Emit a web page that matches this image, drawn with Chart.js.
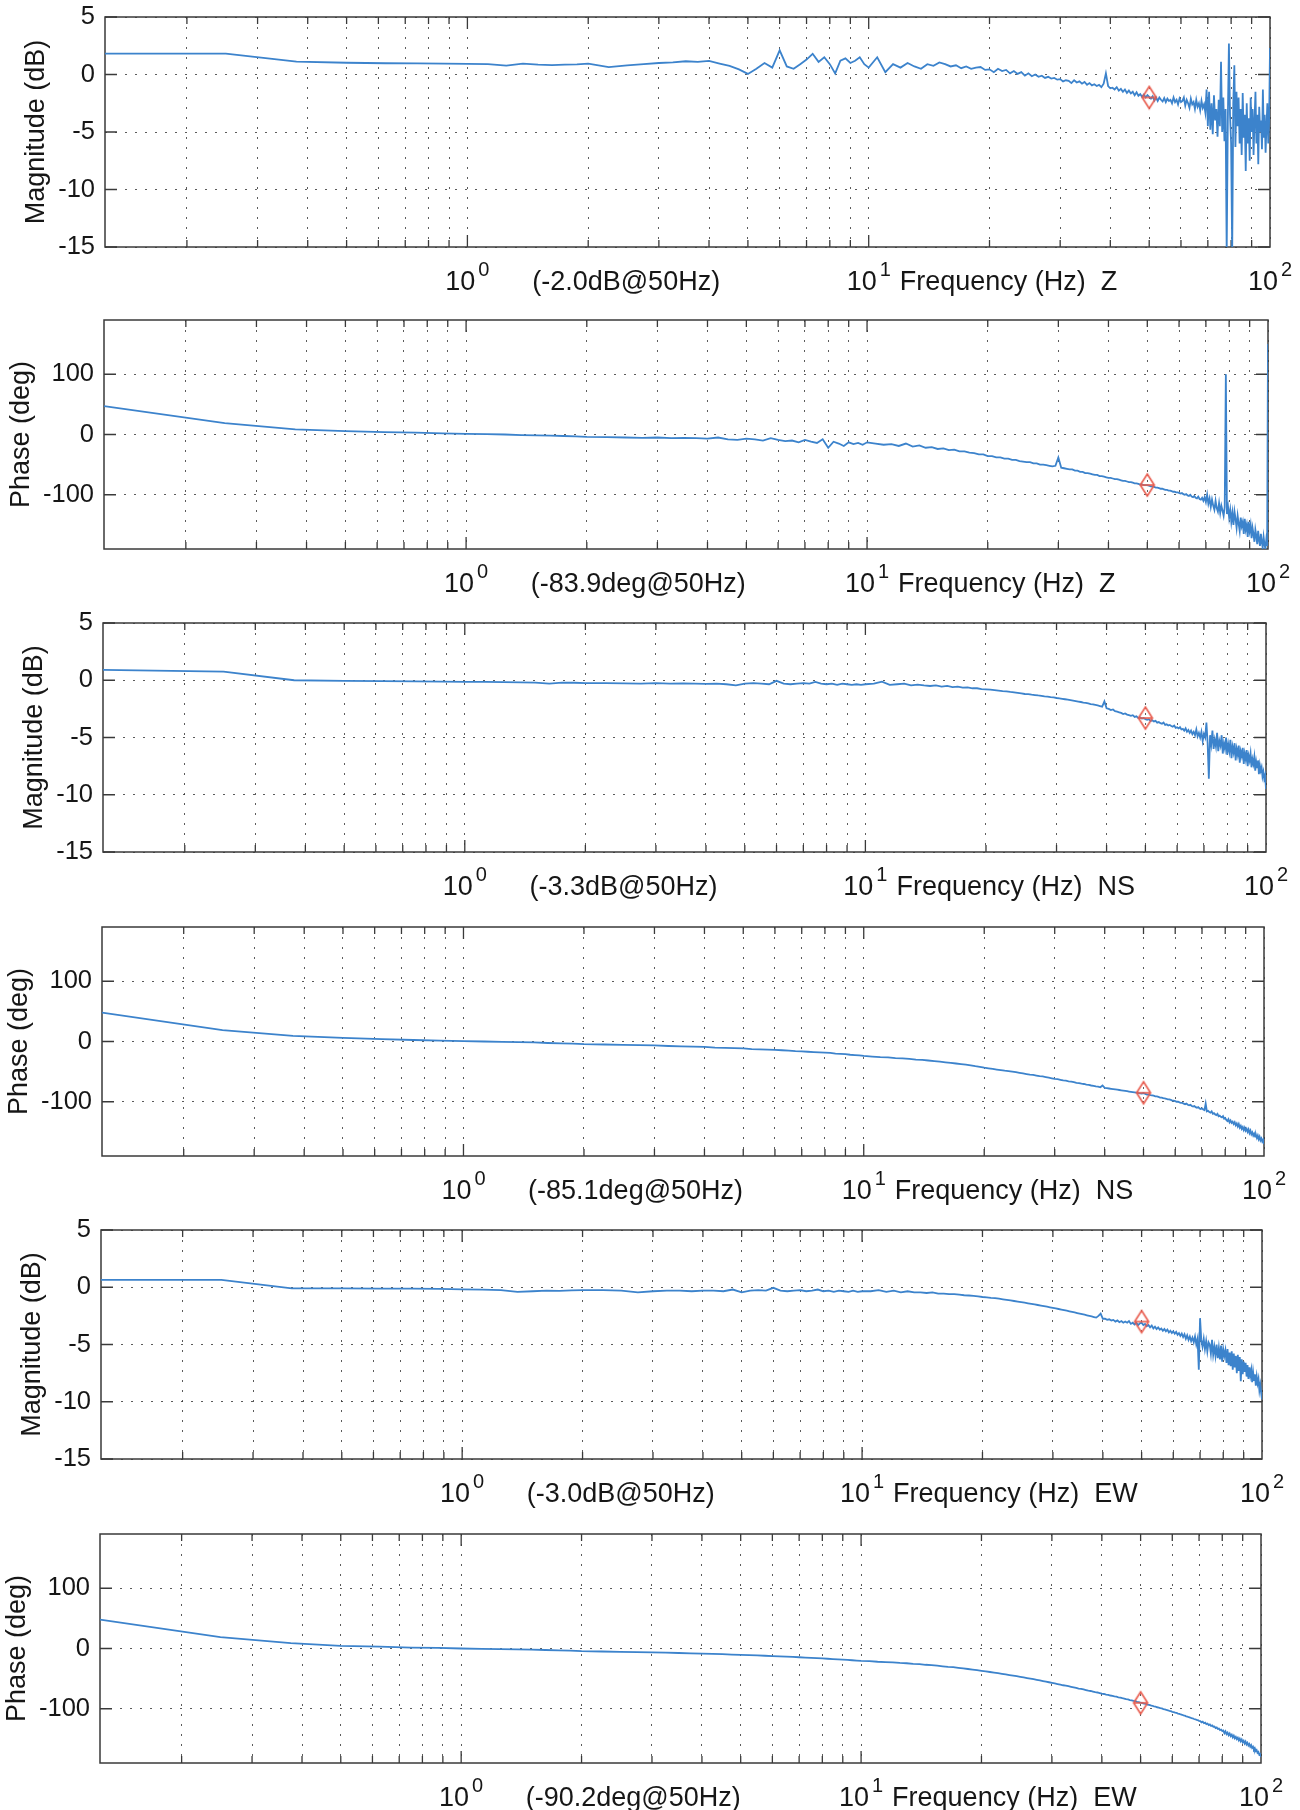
<!DOCTYPE html>
<html>
<head>
<meta charset="utf-8">
<script src="https://cdn.jsdelivr.net/npm/chart.js@4.4.1/dist/chart.umd.min.js"></script>
<style>
  body { margin: 0; background: #fff; }
  #page { position: relative; width: 1300px; height: 1810px; overflow: hidden; background: #fff; }
  #page canvas { position: absolute; left: 0; }
</style>
</head>
<body>
<div id="page"></div>
<script>
// ---- data ----

// frequency samples (Hz)
const freqHz = [
  0.125, 0.25, 0.375, 0.5, 0.625, 0.75, 0.875, 1, 1.125, 1.25, 1.375, 1.5, 1.625, 1.75, 1.875, 2,
  2.25, 2.5, 2.75, 3, 3.25, 3.5, 3.75, 4, 4.25, 4.5, 4.75, 5, 5.25, 5.5, 5.75, 6,
  6.25, 6.5, 6.75, 7, 7.25, 7.5, 7.75, 8, 8.25, 8.5, 8.75, 9, 9.25, 9.5, 9.75, 10,
  10.5, 11, 11.5, 12, 12.5, 13, 13.5, 14, 14.5, 15,
  15.5, 16, 16.5, 17, 17.5, 18, 18.5, 19, 19.5, 20,
  20.5, 21, 21.5, 22, 22.5, 23, 23.5, 24, 24.5, 25,
  25.5, 26, 26.5, 27, 27.5, 28, 28.5, 29, 29.5, 30,
  30.5, 31, 31.5, 32, 32.5, 33, 33.5, 34, 34.5, 35,
  35.5, 36, 36.5, 37, 37.5, 38, 38.5, 39, 39.5, 40,
  40.5, 41, 41.5, 42, 42.5, 43, 43.5, 44, 44.5, 45, 45.5, 46, 46.5, 47, 47.5, 48, 48.5, 49, 49.5, 50,
  50.5, 51, 51.5, 52, 52.5, 53, 53.5, 54, 54.5, 55, 55.5, 56, 56.5, 57, 57.5, 58, 58.5, 59, 59.5, 60,
  60.5, 61, 61.5, 62, 62.5, 63, 63.5, 64, 64.5, 65, 65.5, 66, 66.5, 67, 67.5, 68, 68.5, 69, 69.5, 70,
  70.5, 71, 71.5, 72, 72.5, 73, 73.5, 74, 74.5, 75, 75.5, 76, 76.5, 77, 77.5, 78, 78.5, 79, 79.5, 80,
  80.5, 81, 81.5, 82, 82.5, 83, 83.5, 84, 84.5, 85, 85.5, 86, 86.5, 87, 87.5, 88, 88.5, 89, 89.5, 90,
  90.5, 91, 91.5, 92, 92.5, 93, 93.5, 94, 94.5, 95, 95.5, 96, 96.5, 97, 97.5, 98, 98.5, 99, 99.5, 100
];

// Z component, magnitude (dB)
const magZ = [
  1.82, 1.82, 1.12, 1.02, 0.98, 0.96, 0.95, 0.93, 0.9, 0.78, 0.95, 0.85, 0.82, 0.86, 0.88, 0.95,
  0.65, 0.8, 0.9, 1.0, 1.05, 1.15, 1.1, 1.18, 0.95, 0.75, 0.45, 0.05, 0.5, 1.0, 0.6, 2.1,
  0.7, 0.5, 0.9, 1.3, 1.8, 1.1, 1.5, 0.9, 0.1, 1.2, 1.4, 1.0, 1.2, 1.5, 0.9, 0.6,
  1.5, 0.2, 0.9, 0.6, 1.0, 0.7, 0.5, 0.9, 0.75, 1.05,
  0.9, 0.7, 0.8, 0.55, 0.7, 0.5, 0.6, 0.65, 0.4, 0.45,
  0.2, 0.5, 0.3, 0.4, 0.1, 0.3, 0.05, 0.2, -0.1, 0.1,
  -0.15, 0.0, -0.2, -0.1, -0.3, -0.2, -0.35, -0.3, -0.45, -0.4,
  -0.6, -0.5, -0.55, -0.75, -0.5, -0.7, -0.6, -0.8, -0.65, -0.9,
  -0.75, -0.95, -0.85, -1.0, -0.9, -1.1, -0.8, 0.1, -1.0, -1.2,
  -1.15, -1.3, -1.1, -1.4, -1.25, -1.5, -1.3, -1.6, -1.4, -1.65, -1.5, -1.8, -1.55, -1.85, -1.7, -1.95, -1.75, -2.0, -1.8, -1.95,
  -2.1, -1.9, -2.25, -2.0, -2.3, -2.0, -2.2, -2.35, -2.05, -2.4, -2.1, -2.3, -2.2, -2.5, -2.0, -2.4, -2.2, -2.6, -2.1, -2.4,
  -2.3, -2.0, -2.7, -2.2, -2.5, -2.9, -2.1, -2.6, -2.4, -3.0, -2.2, -2.8, -2.5, -3.1, -2.3, -2.9, -2.6, -3.3, -1.3, -4.5,
  -1.5, -4.8, -2.5, -5.2, -1.8, -4.0, -3.0, -5.4, -2.2, -4.5, 1.1, -5.0, -2.0, -5.8, -3.0, -15.5, -4.0, 2.7, -3.5, -6.0,
  -15.5, -2.5, 0.8, -6.3, -1.5, -4.5, -2.0, -6.0, -3.0, -7.0, -1.6, -5.5, -3.5, -8.4, -2.5, -6.0, -3.8, -7.5, -2.0, -5.0,
  -3.0, -7.0, -4.0, -1.5, -6.0, -3.5, -7.8, -2.8, -5.0, -4.0, -6.5, -1.3, -5.5, -3.5, -6.8, -4.5, -2.5, -6.0, -4.0, 2.3
];

// Z component, phase (deg)
const phaseZ = [
  47, 19, 8.5, 5.5, 4, 3, 2, 1, 0.5, 0, -1, -1.5, -2, -2.5, -3, -4,
  -4.5, -5, -5.5, -5, -6, -5.5, -6, -7, -5, -8, -9, -7, -8, -10, -6, -9,
  -11, -10, -13, -9, -12, -14, -8, -22, -12, -15, -19, -13, -16, -14, -17, -13,
  -15, -17, -16, -19, -15, -20, -18, -22, -21, -24,
  -23, -26, -25, -28, -28, -30, -31, -33, -33, -36,
  -36, -38, -38, -40, -40, -42, -42, -44, -45, -46,
  -46, -48, -48, -50, -50, -51, -52, -53, -52, -38,
  -55, -56, -57, -58, -58, -60, -60, -62, -62, -64,
  -64, -65, -66, -67, -67, -69, -69, -70, -71, -72,
  -72, -73, -74, -74, -75, -76, -77, -77, -78, -79, -79, -80, -81, -81, -82, -83, -83, -84, -84, -84,
  -85, -86, -86, -87, -88, -88, -89, -90, -90, -91, -92, -92, -93, -93, -94, -95, -95, -96, -96, -97,
  -98, -97, -99, -100, -99, -101, -102, -100, -103, -104, -102, -105, -106, -103, -107, -108, -105, -110, -104, -112,
  -100, -115, -106, -120, -108, -118, -125, -110, -122, -128, -114, -130, -118, -126, -135, -120, 100, -132, -120, -138,
  -125, -145, -130, -150, -128, -140, -155, -135, -148, -160, -138, -152, -145, -165, -140, -158, -150, -170, -145, -160,
  -150, -172, -155, -165, -178, -158, -168, -182, -160, -175, -185, -165, -178, -188, -170, -182, -190, -175, -185, 150
];

// NS component, magnitude (dB)
const magNS = [
  0.9, 0.75, 0.0, -0.05, -0.08, -0.1, -0.12, -0.15, -0.15, -0.17, -0.18, -0.2, -0.3, -0.2, -0.22, -0.25,
  -0.25, -0.28, -0.3, -0.25, -0.3, -0.28, -0.3, -0.32, -0.3, -0.35, -0.45, -0.3, -0.25, -0.3, -0.35, -0.05,
  -0.3, -0.35, -0.3, -0.25, -0.3, -0.15, -0.3, -0.35, -0.3, -0.4, -0.3, -0.35, -0.4, -0.35, -0.4, -0.35,
  -0.3, -0.12, -0.4, -0.35, -0.3, -0.45, -0.38, -0.45, -0.5, -0.45,
  -0.55, -0.5, -0.6, -0.55, -0.65, -0.62, -0.7, -0.7, -0.78, -0.8,
  -0.82, -0.86, -0.9, -0.95, -0.97, -1.02, -1.05, -1.1, -1.15, -1.2,
  -1.22, -1.26, -1.29, -1.33, -1.36, -1.4, -1.43, -1.47, -1.5, -1.55,
  -1.58, -1.62, -1.66, -1.7, -1.74, -1.78, -1.82, -1.86, -1.9, -1.95,
  -1.98, -2.02, -2.08, -2.1, -2.15, -2.2, -2.25, -2.3, -1.85, -2.45,
  -2.5, -2.6, -2.55, -2.7, -2.75, -2.8, -2.85, -2.95, -2.9, -3.0, -3.05, -3.1, -3.05, -3.2, -3.15, -3.3, -3.25, -3.35, -3.3, -3.4,
  -3.45, -3.4, -3.55, -3.5, -3.6, -3.55, -3.7, -3.65, -3.75, -3.8, -3.7, -3.9, -3.85, -3.95, -3.9, -4.0, -4.05, -3.95, -4.15, -4.1,
  -4.2, -4.1, -4.3, -4.25, -4.4, -4.2, -4.5, -4.35, -4.6, -4.4, -4.7, -4.5, -4.8, -4.3, -4.9, -4.6, -5.0, -4.5, -5.3, -4.7,
  -5.0, -3.7, -5.5, -8.6, -4.8, -5.6, -4.4, -6.0, -5.2, -5.8, -4.6, -6.2, -5.3, -5.7, -4.8, -6.4, -5.5, -6.0, -5.0, -6.5,
  -5.6, -6.2, -5.2, -6.8, -5.8, -6.3, -5.5, -7.0, -6.0, -6.5, -5.7, -7.2, -6.2, -6.6, -5.9, -7.3, -6.4, -6.9, -6.1, -7.5,
  -6.6, -7.0, -6.4, -7.6, -6.9, -7.3, -6.7, -7.9, -7.1, -7.6, -7.0, -8.2, -7.4, -7.9, -7.6, -8.4, -8.0, -8.6, -8.3, -9.5
];

// NS component, phase (deg)
const phaseNS = [
  48, 19, 9.5, 6, 4, 2.5, 1.5, 0.5, 0, -0.5, -1, -1.5, -2.5, -3, -3.5, -4.5,
  -5, -5.5, -6, -6.5, -7.5, -8, -8.5, -9, -10, -10.5, -11, -11.5, -12.5, -13, -13.5, -14,
  -14.5, -15, -16, -16.5, -17, -17.5, -18, -18.5, -19, -20, -20.5, -21, -22, -22.5, -23, -24,
  -25, -26, -26.5, -27.5, -28, -29, -30, -30.5, -31.5, -32.5,
  -33.5, -34.5, -35.5, -36.5, -37.5, -38.5, -39.5, -41, -42, -43.5,
  -44.5, -45.5, -46.5, -47.5, -48.5, -49, -50, -51, -52, -53,
  -54, -55, -55.5, -56.5, -57.5, -58, -59, -60, -61, -62,
  -62.5, -63.5, -64.5, -65, -66, -66.5, -67.5, -68.5, -69, -70,
  -70.5, -71.5, -72, -73, -73.5, -74.5, -75, -76, -73, -77,
  -77.5, -78, -78.5, -79, -79.5, -80, -80.5, -81, -81.5, -82, -82.5, -83, -83.5, -84, -84.5, -85, -85.5, -86, -86.5, -85.5,
  -87, -88, -88, -89, -89.5, -90, -91, -91, -92, -93, -93, -94, -94.5, -95, -96, -96, -97, -98, -98, -99,
  -100, -100, -101, -102, -102, -103, -104, -103, -105, -106, -105, -107, -108, -107, -109, -110, -109, -111, -112, -111,
  -113, -114, -103, -116, -115, -117, -118, -116, -120, -119, -121, -122, -120, -124, -123, -125, -126, -124, -128, -127,
  -130, -132, -129, -134, -131, -135, -133, -137, -134, -139, -136, -141, -137, -143, -140, -145, -142, -147, -143, -148,
  -145, -150, -146, -152, -148, -154, -151, -156, -153, -158, -155, -160, -156, -162, -158, -164, -161, -166, -163, -170
];

// EW component, magnitude (dB)
const magEW = [
  0.65, 0.65, -0.1, -0.1, -0.12, -0.12, -0.15, -0.18, -0.2, -0.25, -0.4, -0.35, -0.3, -0.32, -0.28, -0.25,
  -0.25, -0.3, -0.45, -0.35, -0.3, -0.3, -0.35, -0.3, -0.3, -0.35, -0.2, -0.45, -0.3, -0.25, -0.3, -0.05,
  -0.3, -0.35, -0.3, -0.25, -0.35, -0.3, -0.2, -0.35, -0.3, -0.4, -0.3, -0.35, -0.4, -0.3, -0.4, -0.35,
  -0.35, -0.25, -0.4, -0.3, -0.45, -0.35, -0.45, -0.45, -0.5, -0.45,
  -0.55, -0.55, -0.6, -0.6, -0.65, -0.7, -0.72, -0.75, -0.8, -0.85,
  -0.88, -0.92, -0.95, -1.0, -1.05, -1.1, -1.15, -1.2, -1.25, -1.3,
  -1.35, -1.4, -1.45, -1.5, -1.55, -1.6, -1.65, -1.7, -1.75, -1.8,
  -1.85, -1.9, -1.95, -2.0, -2.05, -2.1, -2.15, -2.2, -2.25, -2.3,
  -2.35, -2.4, -2.45, -2.5, -2.55, -2.6, -2.65, -2.5, -2.3, -2.75,
  -2.75, -2.85, -2.8, -2.9, -2.85, -3.0, -2.9, -3.05, -2.95, -3.1, -3.0, -3.1, -2.95, -3.2, -3.1, -3.25, -3.1, -3.3, -3.15, -3.1,
  -3.3, -3.2, -3.4, -3.3, -3.5, -3.35, -3.6, -3.45, -3.65, -3.5, -3.7, -3.6, -3.8, -3.65, -3.85, -3.7, -3.95, -3.8, -4.0, -3.85,
  -4.05, -3.9, -4.15, -4.0, -4.25, -4.05, -4.35, -4.1, -4.5, -4.2, -4.6, -4.3, -4.7, -4.4, -4.8, -4.3, -5.0, -4.5, -7.2, -2.7,
  -4.6, -5.2, -4.5, -5.4, -4.7, -5.6, -4.8, -5.0, -5.8, -4.6, -5.9, -5.2, -6.0, -5.0, -6.2, -5.3, -6.3, -5.1, -6.5, -5.4,
  -6.0, -5.5, -6.6, -5.4, -6.8, -5.7, -6.9, -5.6, -7.2, -5.8, -7.0, -6.0, -7.5, -5.9, -7.3, -6.1, -8.2, -6.3, -7.6, -6.5,
  -7.4, -6.6, -7.8, -6.8, -8.0, -7.0, -7.7, -7.2, -8.3, -7.4, -8.1, -7.6, -8.6, -7.8, -8.4, -8.0, -9.0, -8.5, -9.2, -9.8
];

// EW component, phase (deg)
const phaseEW = [
  48, 19, 9, 4.5, 3, 1.5, 1, 0, -0.5, -1, -1.5, -2, -2.5, -3, -3.5, -4.5,
  -5, -5.5, -6, -6.5, -7, -7.5, -8, -8.5, -9, -9.5, -10, -10.5, -11, -11.5, -12, -12.5,
  -13, -13.5, -14, -14.5, -15, -15.5, -16, -16.5, -17, -17.5, -18, -18.5, -19, -19.5, -20, -20.5,
  -21, -22, -22.5, -23, -24, -24.5, -25.5, -26, -27, -27.5,
  -28.5, -29.5, -30.5, -31, -32, -33, -34, -35, -36, -37,
  -38, -39, -40, -41, -42, -43, -44, -45, -46, -47,
  -48, -49, -50, -51, -52, -53, -54, -55, -56, -57,
  -58, -59, -60, -61, -61.5, -62.5, -63.5, -64.5, -65.5, -66.5,
  -67, -68, -69, -70, -70.5, -71.5, -72.5, -73, -74, -75,
  -75.5, -76.5, -77, -78, -78.5, -79.5, -80, -81, -81.5, -82.5, -83, -84, -84.5, -85.5, -86, -87, -87.5, -88.5, -89, -90,
  -90.5, -91.5, -92, -93, -93.5, -94.5, -95, -96, -96.5, -97.5, -98, -99, -99.5, -100.5, -101, -102, -102.5, -103.5, -104, -105,
  -105.5, -106.5, -107, -108, -108.5, -109.5, -110, -111, -111.5, -112.5, -113, -114, -114.5, -115.5, -116, -117, -117.5, -118.5, -119, -120,
  -120.5, -122.5, -121.5, -124, -123, -125.5, -124.5, -127, -126, -128.5, -127.5, -130, -129.5, -132, -131, -133.5, -133, -135.5, -134.5, -137,
  -136, -140.5, -137.5, -142, -139.5, -144, -141, -145.5, -143, -147.5, -144.5, -149, -146.5, -150.5, -148, -152.5, -149.5, -154, -151, -155.5,
  -153, -157.5, -154.5, -159, -156.5, -161, -158.5, -163, -160.5, -165, -163, -167.5, -165.5, -170, -168.5, -173, -171.5, -176, -175, -180
];

// values at the 50 Hz marker, per panel (top to bottom)
const markerHz = 50;
const markerAt50 = [-2.0, -83.9, -3.3, -85.1, -3.0, -90.2];
const panelSeries = [magZ, phaseZ, magNS, phaseNS, magEW, phaseEW];
const panelKind = ['mag', 'phase', 'mag', 'phase', 'mag', 'phase'];
const panelComp = ['Z', 'Z', 'NS', 'NS', 'EW', 'EW'];

// axis ticks
const xGridHz = [0.2, 0.3, 0.4, 0.5, 0.6, 0.7, 0.8, 0.9, 1, 2, 3, 4, 5, 6, 7, 8, 9, 10, 20, 30, 40, 50, 60, 70, 80, 90, 100];
const xDecades = [1, 10, 100];
const magTicks = [-15, -10, -5, 0, 5];
const phaseTicks = [-100, 0, 100];

// ---- layout / style ----
const panelBoxes = [
  { top: 17, bottom: 247, left: 105, right: 1270 },
  { top: 320, bottom: 549, left: 104, right: 1268 },
  { top: 623, bottom: 852, left: 103, right: 1266 },
  { top: 927, bottom: 1156, left: 102, right: 1264 },
  { top: 1230, bottom: 1459, left: 101, right: 1262 },
  { top: 1534, bottom: 1763, left: 100, right: 1261 }
];
const fontFamily = "'Liberation Sans', Arial, Helvetica, sans-serif";
const ink = '#161616';
const frameInk = '#3a3a3a';
const gridInk = 'rgba(50,50,50,0.8)';
const lineBlue = '#3c83cc';
const markerRed = '#e85a4c';

Chart.defaults.font.family = fontFamily;

// red diamond marker like Matlab's 'd'
const diamond = document.createElement('canvas');
diamond.width = 18;
diamond.height = 26;
(function () {
  const g = diamond.getContext('2d');
  g.strokeStyle = markerRed;
  g.lineWidth = 1.6;
  g.beginPath();
  g.moveTo(9, 2); g.lineTo(16, 13); g.lineTo(9, 24); g.lineTo(2, 13); g.closePath();
  g.stroke();
  g.beginPath();
  g.moveTo(2.5, 13); g.lineTo(15.5, 13);
  g.stroke();
})();

// frame and inward ticks under the curve, x labels on top (Matlab style)
const framePlugin = {
  id: 'frame',
  beforeDatasetsDraw(chart) {
    const { ctx, chartArea: a, scales: { x, y } } = chart;
    ctx.save();
    ctx.strokeStyle = frameInk;
    ctx.lineWidth = 1.5;
    ctx.strokeRect(a.left, a.top, a.right - a.left, a.bottom - a.top);

    ctx.lineWidth = 1.3;
    ctx.beginPath();
    x.ticks.forEach(t => {
      if (t.value >= 100) return;
      const px = x.getPixelForValue(t.value);
      const len = xDecades.includes(t.value) ? 12 : 7;
      ctx.moveTo(px, a.bottom); ctx.lineTo(px, a.bottom - len);
      ctx.moveTo(px, a.top); ctx.lineTo(px, a.top + len);
    });
    y.ticks.forEach(t => {
      const py = y.getPixelForValue(t.value);
      ctx.moveTo(a.left, py); ctx.lineTo(a.left + 12, py);
      ctx.moveTo(a.right, py); ctx.lineTo(a.right - 12, py);
    });
    ctx.stroke();
    ctx.restore();
  },
  afterDraw(chart) {
    const { ctx, chartArea: a, scales: { x } } = chart;
    const i = chart.options.panelIndex;
    ctx.save();
    // decade labels 10^n
    const base = a.bottom + 43;
    ctx.fillStyle = ink;
    ctx.textBaseline = 'alphabetic';
    ctx.textAlign = 'left';
    xDecades.forEach((v, n) => {
      ctx.font = '27px ' + fontFamily;
      const w1 = ctx.measureText('10').width;
      ctx.font = '20px ' + fontFamily;
      const w2 = ctx.measureText(String(n)).width;
      const left = x.getPixelForValue(v) - (w1 + 3 + w2) / 2;
      ctx.font = '27px ' + fontFamily;
      ctx.fillText('10', left, base);
      ctx.font = '20px ' + fontFamily;
      ctx.fillText(String(n), left + w1 + 3, base - 14);
    });

    // value at 50 Hz and axis name
    ctx.font = '27px ' + fontFamily;
    const unit = panelKind[i] === 'mag' ? 'dB' : 'deg';
    ctx.fillText('(' + markerAt50[i].toFixed(1) + unit + '@' + markerHz + 'Hz)', x.getPixelForValue(1.45), base);
    ctx.fillText('Frequency (Hz)  ' + panelComp[i], x.getPixelForValue(10) + 31, base);
    ctx.restore();
  }
};

const page = document.getElementById('page');

function makePanel(i) {
  const box = panelBoxes[i];
  const isMag = panelKind[i] === 'mag';
  const padTop = 22;
  const padBottom = 60;
  const canvas = document.createElement('canvas');
  canvas.width = 1300;
  canvas.height = box.bottom - box.top + padTop + padBottom;
  canvas.style.top = (box.top - padTop) + 'px';
  page.appendChild(canvas);

  const yTicks = isMag ? magTicks : phaseTicks;
  const titleSize = 27;
  const titleCenter = box.left - (isMag ? 68 : 82);

  new Chart(canvas, {
    type: 'line',
    data: {
      datasets: [
        {
          data: [{ x: markerHz, y: markerAt50[i] }],
          showLine: false,
          pointStyle: diamond,
          pointRadius: 10,
          pointHoverRadius: 10
        },
        {
          data: freqHz.map((f, k) => ({ x: f, y: panelSeries[i][k] })),
          borderColor: lineBlue,
          borderWidth: 1.8,
          pointRadius: 0,
          tension: 0,
          fill: false
        }
      ]
    },
    options: {
      panelIndex: i,
      responsive: false,
      animation: false,
      devicePixelRatio: 1,
      events: [],
      layout: { padding: { top: padTop, bottom: padBottom, left: 0, right: 1300 - box.right } },
      plugins: { legend: { display: false }, tooltip: { enabled: false } },
      scales: {
        x: {
          type: 'logarithmic',
          min: 0.125,
          max: 100,
          afterBuildTicks: ax => { ax.ticks = xGridHz.map(v => ({ value: v })); },
          afterFit: ax => { ax.height = 0; ax.paddingLeft = 0; ax.paddingRight = 0; },
          ticks: { display: false },
          grid: { color: gridInk, lineWidth: 1, drawTicks: false },
          border: { display: false, dash: [2, 8] }
        },
        y: {
          min: isMag ? -15 : -190,
          max: isMag ? 5 : 190,
          afterBuildTicks: ax => { ax.ticks = yTicks.map(v => ({ value: v })); },
          afterFit: ax => { ax.width = box.left; ax.paddingTop = 0; ax.paddingBottom = 0; },
          ticks: { color: ink, font: { size: 25.5 }, padding: 10 },
          grid: { color: gridInk, lineWidth: 1, drawTicks: false },
          border: { display: false, dash: [2, 8] },
          title: {
            display: true,
            text: isMag ? 'Magnitude (dB)' : 'Phase (deg)',
            color: ink,
            font: { size: titleSize },
            padding: { top: titleCenter - titleSize * 0.6, bottom: 0 }
          }
        }
      }
    },
    plugins: [framePlugin]
  });
}

for (let i = 0; i < panelSeries.length; i++) makePanel(i);
</script>
</body>
</html>
